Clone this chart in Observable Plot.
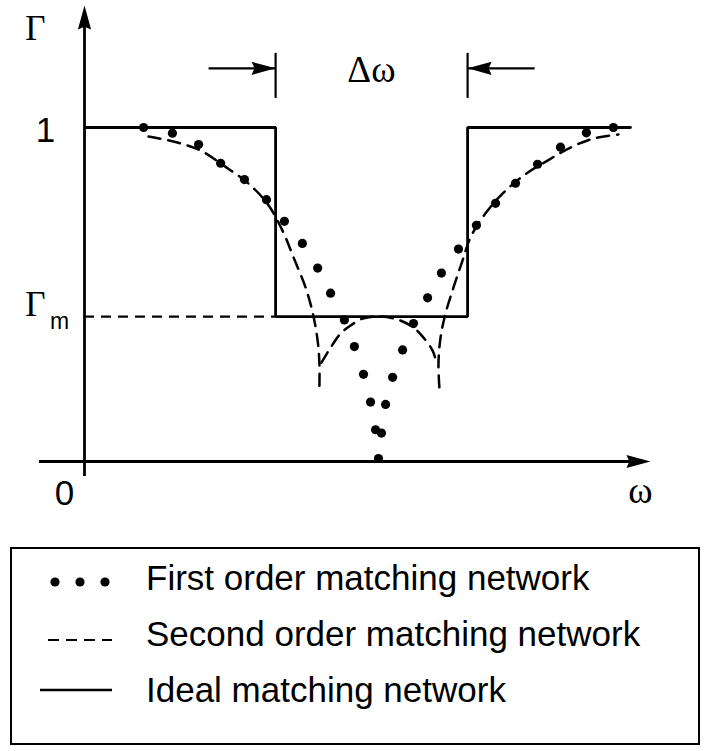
<!DOCTYPE html>
<html>
<head>
<meta charset="utf-8">
<script src="https://cdn.jsdelivr.net/npm/d3@7"></script>
<script src="https://cdn.jsdelivr.net/npm/@observablehq/plot@0.6"></script>
<style>
  body { margin: 0; background: #fff; }
  #figure { position: relative; width: 706px; height: 751px; overflow: hidden; }
  #figure svg { display: block; }
  .legend {
    position: absolute; left: 10px; top: 547px;
    width: 686px; height: 194px;
    border: 2px solid #000;
    font-family: "Liberation Sans", Arial, Helvetica, sans-serif;
    font-size: 35px; color: #000;
  }
  .legend .row { position: absolute; left: 0; width: 100%; height: 40px; }
  .legend .row svg { position: absolute; left: 0; top: 0; }
  .legend .row span { position: absolute; left: 134px; top: 0; line-height: 40px; white-space: nowrap; }
</style>
</head>
<body>
<div id="figure"></div>
<script>
// Reflection coefficient magnitude Γ versus frequency ω (ω normalised to the band centre).

// Ideal (brick-wall) matching network
const bandLow = 0.65;
const bandHigh = 1.303;
const gammaM = 0.434;
const idealW = [0, bandLow, bandLow, bandHigh, bandHigh, 1.857];
const idealG = [1, 1, gammaM, gammaM, 1, 1];

// First order matching network (dots)
const firstW = [0.201, 0.299, 0.388, 0.463, 0.544, 0.619, 0.680, 0.741, 0.793, 0.837,
                0.884, 0.918, 0.949, 0.973, 0.990, 1.000, 1.010, 1.024, 1.048, 1.082,
                1.119, 1.167, 1.214, 1.272, 1.333, 1.398, 1.466, 1.541, 1.619, 1.707, 1.799];
const firstG = [1.000, 0.983, 0.949, 0.893, 0.844, 0.784, 0.719, 0.653, 0.579, 0.504,
                0.424, 0.344, 0.261, 0.178, 0.095, 0.009, 0.085, 0.171, 0.252, 0.334,
                0.413, 0.490, 0.564, 0.636, 0.707, 0.773, 0.833, 0.890, 0.941, 0.984, 1.000];

// Second order matching network (dashed), drawn as three branches
const secondLeft = [[0.218, 0.973], [0.316, 0.955], [0.395, 0.931], [0.473, 0.886], [0.554, 0.835],
                    [0.622, 0.772], [0.673, 0.692], [0.711, 0.611], [0.752, 0.521], [0.776, 0.446],
                    [0.793, 0.362], [0.799, 0.293], [0.799, 0.219]];
const secondInner = [[0.806, 0.296], [0.837, 0.341], [0.871, 0.383], [0.905, 0.407], [0.946, 0.428],
                     [1.000, 0.434], [1.065, 0.425], [1.119, 0.401], [1.153, 0.371], [1.184, 0.332],
                     [1.197, 0.296]];
const secondRight = [[1.207, 0.222], [1.204, 0.293], [1.211, 0.371], [1.228, 0.443], [1.255, 0.521],
                     [1.286, 0.602], [1.313, 0.671], [1.364, 0.743], [1.422, 0.802], [1.493, 0.856],
                     [1.575, 0.901], [1.653, 0.940], [1.731, 0.967], [1.816, 0.979]];

// Axes extents (ω, Γ)
const xAxisFrom = -0.153, xAxisTip = 1.925;
const yAxisFrom = -0.045, yAxisTip = 1.365;

// Δω bandwidth marker
const deltaLevel = 1.177;
const deltaTick = [1.087, 1.222];
const deltaTail = [0.422, 1.531];

// Labels
const serifLabels = [
  {w: -0.167, g: 1.296, text: "Γ", size: 35},
  {w: -0.167, g: 0.470, text: "Γ", size: 35},
  {w: 1.891, g: -0.088, text: "ω", size: 37},
  {w: 0.976, g: 1.171, text: "Δω", size: 37}
];
const sansLabels = [
  {w: -0.133, g: 0.991, text: "1", size: 35},
  {w: -0.068, g: -0.096, text: "0", size: 35},
  {w: -0.085, g: 0.418, text: "m", size: 23}
];

const legendItems = ["First order matching network", "Second order matching network", "Ideal matching network"];

// ---- tables built from the arrays above ----
const ideal = idealW.map((w, i) => ({w, g: idealG[i]}));
const firstOrder = firstW.map((w, i) => ({w, g: firstG[i]}));
const secondOrder = [
  ...secondLeft.map(([w, g]) => ({branch: "left", w, g})),
  ...secondInner.map(([w, g]) => ({branch: "inner", w, g})),
  ...secondRight.map(([w, g]) => ({branch: "right", w, g}))
];
const arrowHeads = [
  {w: 0, g: yAxisTip, rotate: 0},
  {w: xAxisTip, g: 0, rotate: 90},
  {w: bandLow, g: deltaLevel, rotate: 90},
  {w: bandHigh, g: deltaLevel, rotate: -90}
];
const deltaArrows = [
  {w1: deltaTail[0], w2: bandLow},
  {w1: deltaTail[1], w2: bandHigh}
];

// Slender filled arrowhead with its tip at the origin, pointing up
const arrowHead = {
  draw(context, size) {
    const r = Math.sqrt(size / Math.PI);
    const len = 2.4 * r, half = 0.66 * r;
    context.moveTo(0, 0);
    context.lineTo(half, len);
    context.lineTo(0, len * 0.88);
    context.lineTo(-half, len);
    context.closePath();
  }
};

const chart = Plot.plot({
  width: 706,
  height: 530,
  margin: 0,
  x: {domain: [-0.2857, 2.1156], axis: null},
  y: {domain: [-0.2066, 1.3802], axis: null},
  marks: [
    // axes
    Plot.ruleX([0], {y1: yAxisFrom, y2: yAxisTip - 0.04, stroke: "black", strokeWidth: 2.8}),
    Plot.ruleY([0], {x1: xAxisFrom, x2: xAxisTip - 0.04, stroke: "black", strokeWidth: 2.8}),
    // Γm reference level
    Plot.ruleY([gammaM], {x1: 0, x2: bandLow, stroke: "black", strokeWidth: 2.2, strokeDasharray: "10,7"}),
    // ideal response
    Plot.line(ideal, {x: "w", y: "g", stroke: "black", strokeWidth: 2.8, strokeLinejoin: "miter"}),
    // second order response
    Plot.line(secondOrder, {x: "w", y: "g", z: "branch", curve: "catmull-rom",
      stroke: "black", strokeWidth: 2.5, strokeDasharray: "12,8"}),
    // first order response
    Plot.dot(firstOrder, {x: "w", y: "g", r: 4.6, fill: "black", stroke: "none"}),
    // Δω marker
    Plot.ruleX([bandLow, bandHigh], {y1: deltaTick[0], y2: deltaTick[1], stroke: "black", strokeWidth: 2.2}),
    Plot.link(deltaArrows, {x1: "w1", x2: "w2", y1: deltaLevel, y2: deltaLevel, stroke: "black", strokeWidth: 2.2}),
    // arrowheads
    Plot.dot(arrowHeads, {x: "w", y: "g", rotate: "rotate", symbol: arrowHead, r: 10, fill: "black", stroke: "none"}),
    // labels
    Plot.text(serifLabels, {x: "w", y: "g", text: "text", fontSize: "size",
      fontFamily: "'Liberation Serif', 'Times New Roman', serif", fill: "black", textAnchor: "middle", lineAnchor: "middle"}),
    Plot.text(sansLabels, {x: "w", y: "g", text: "text", fontSize: "size",
      fontFamily: "'Liberation Sans', Arial, Helvetica, sans-serif", fill: "black", textAnchor: "middle", lineAnchor: "middle"})
  ]
});

const figure = document.getElementById("figure");
figure.appendChild(chart);

// Legend box below the plot
const legend = document.createElement("div");
legend.className = "legend";
const rowTops = [9, 65, 121];
const swatches = [
  `<circle cx="43" cy="24" r="4.6" fill="black"/><circle cx="68" cy="24" r="4.6" fill="black"/><circle cx="93" cy="24" r="4.6" fill="black"/>`,
  `<line x1="36" x2="100" y1="26" y2="26" stroke="black" stroke-width="2.2" stroke-dasharray="11,7"/>`,
  `<line x1="28" x2="100" y1="20" y2="20" stroke="black" stroke-width="2.4"/>`
];
legendItems.forEach((label, i) => {
  const row = document.createElement("div");
  row.className = "row";
  row.style.top = rowTops[i] + "px";
  row.innerHTML = `<svg width="120" height="40">${swatches[i]}</svg>`;
  const span = document.createElement("span");
  span.textContent = label;
  row.appendChild(span);
  legend.appendChild(row);
});
figure.appendChild(legend);
</script>
</body>
</html>
